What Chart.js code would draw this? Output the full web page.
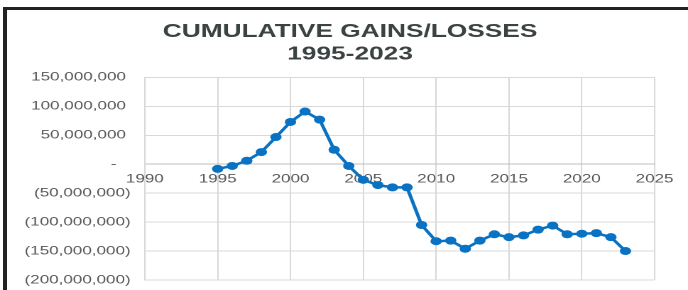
<!doctype html>
<html lang="en">
<head>
<meta charset="utf-8">
<title>Cumulative Gains/Losses 1995-2023</title>
<style>
  html, body { margin: 0; padding: 0; background: #fff; overflow: hidden; }
  #frame { position: absolute; left: 3px; top: 7px; width: 760px; height: 330px;
           border-left: 4px solid #222; border-top: 3px solid #222; }
  /* the reference is a horizontally stretched picture, so stretch the canvas too */
  #wrap { position: absolute; left: 0; top: 0; width: 493px; height: 290px;
          transform: scaleX(1.42); transform-origin: 0 0; }
</style>
</head>
<body>
<div id="frame"></div>
<div id="wrap"><canvas id="chart"></canvas></div>
<script src="https://cdn.jsdelivr.net/npm/chart.js"></script>
<script>
const titleLines = ['CUMULATIVE GAINS/LOSSES', '1995-2023'];
const years = [1995, 1996, 1997, 1998, 1999, 2000, 2001, 2002, 2003, 2004,
               2005, 2006, 2007, 2008, 2009, 2010, 2011, 2012, 2013, 2014,
               2015, 2016, 2017, 2018, 2019, 2020, 2021, 2022, 2023];
const gains = [-8000000, -3000000, 6000000, 21000000, 47000000, 73000000, 91000000, 77000000, 25000000, -3000000,
               -27000000, -36000000, -40000000, -40000000, -105000000, -133000000, -132000000, -146000000, -132000000, -121000000,
               -126000000, -123000000, -113000000, -106000000, -121000000, -120000000, -119000000, -126000000, -150000000];
const yMin = -200000000, yMax = 150000000, yStep = 50000000;
const xMin = 1990, xMax = 2025, xStep = 5;

const font = '"Liberation Sans", Arial, sans-serif';

// accounting style labels: (50,000,000), -, 50,000,000
function acct(v) {
  if (v === 0) return '-   ';
  const s = Math.abs(v).toLocaleString('en-US');
  return v < 0 ? '(' + s + ')' : s + ' ';
}

new Chart(document.getElementById('chart'), {
  type: 'line',
  data: {
    datasets: [{
      data: years.map((x, i) => ({ x: x, y: gains[i] })),
      borderColor: '#0a72c2',
      backgroundColor: '#0a72c2',
      borderWidth: 2.5,
      pointRadius: 4,
      pointBorderWidth: 0,
      tension: 0
    }]
  },
  options: {
    responsive: true,
    maintainAspectRatio: false,
    animation: false,
    devicePixelRatio: 2,
    layout: { padding: { left: 0, right: 0, top: 0, bottom: 10 } },
    plugins: {
      legend: { display: false },
      tooltip: { enabled: false },
      title: {
        display: true,
        text: titleLines,
        color: '#3b4242',
        font: { family: font, size: 18.5, weight: 'bold', lineHeight: 1.2 },
        padding: { top: 21, bottom: 12 }
      }
    },
    scales: {
      x: {
        type: 'linear',
        position: { y: 0 },
        min: xMin,
        max: xMax,
        ticks: { stepSize: xStep, color: '#595959', font: { family: font, size: 12 }, padding: 8,
                 callback: v => String(v) },
        grid: { color: '#d9d9d9', drawTicks: false },
        border: { color: '#bfbfbf' }
      },
      y: {
        min: yMin,
        max: yMax,
        ticks: { stepSize: yStep, color: '#595959', font: { family: font, size: 12 }, padding: 10,
                 callback: acct },
        grid: { color: '#d9d9d9', drawTicks: false },
        border: { color: '#d9d9d9' },
        afterFit: s => { s.width = 102; s.paddingTop = 0; s.paddingBottom = 0; }
      },
      // empty spacer on the right, keeps the title centred on the whole canvas
      yR: {
        position: 'right',
        ticks: { display: false },
        grid: { display: false },
        border: { display: false },
        afterFit: s => { s.width = 32; s.paddingTop = 0; s.paddingBottom = 0; }
      }
    }
  }
});
</script>
</body>
</html>
